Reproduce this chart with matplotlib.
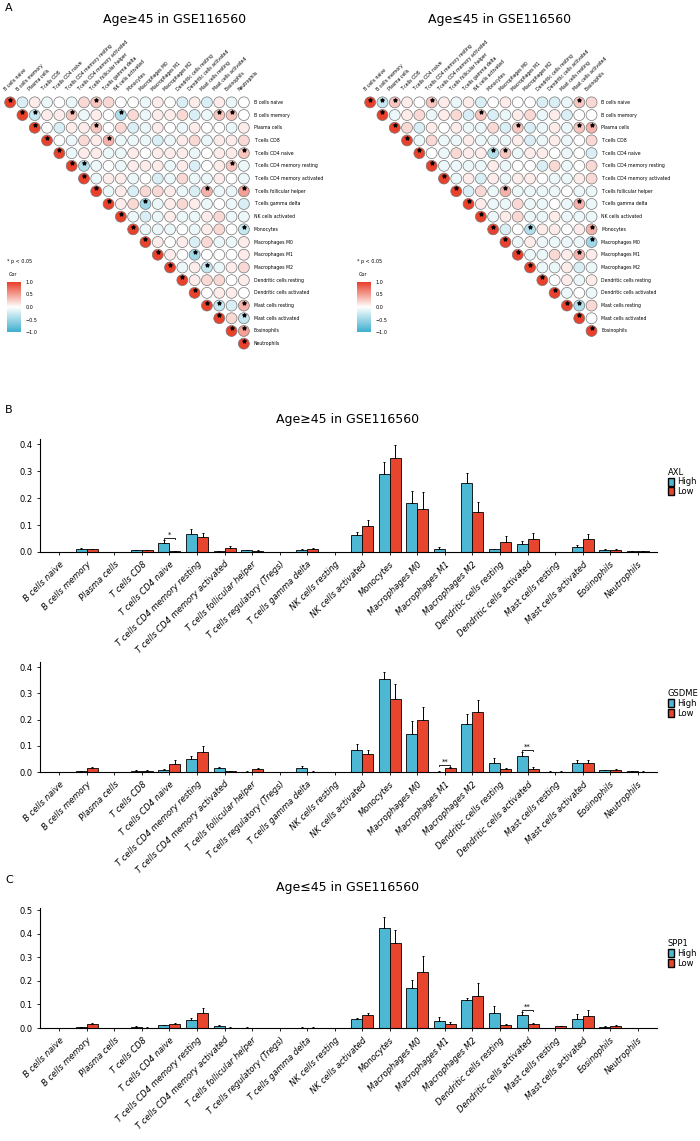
import matplotlib
matplotlib.use("Agg")
import matplotlib.pyplot as plt
import numpy as np
from matplotlib.colors import LinearSegmentedColormap
from matplotlib.patches import Patch

cells = ["B cells naive","B cells memory","Plasma cells","T cells CD8","T cells CD4 naive",
         "T cells CD4 memory resting","T cells CD4 memory activated","T cells follicular helper",
         "T cells regulatory (Tregs)","T cells gamma delta","NK cells resting","NK cells activated",
         "Monocytes","Macrophages M0","Macrophages M1","Macrophages M2","Dendritic cells resting",
         "Dendritic cells activated","Mast cells resting","Mast cells activated","Eosinophils","Neutrophils"]
heat_left_labels = [c for c in cells if c not in ("T cells regulatory (Tregs)","NK cells resting")]
heat_right_labels = heat_left_labels[:-1]

# upper-triangle correlations (tenths), rows excluding diagonal
left_rows = [
 [-2,1,-1,0,-1,2,3,2,0,0,-1,1,0,-2,1,-2,1,-1,0],
 [-3,1,1,3,-1,1,0,-4,2,-1,1,1,2,-2,-1,3,3,0],
 [0,-2,1,1,3,0,2,-2,-1,1,0,-1,1,0,0,-1,1],
 [0,-1,2,1,4,-1,-1,-1,-2,-1,1,2,-1,1,1,2],
 [-1,1,1,-1,-1,1,0,1,1,1,-1,0,1,1,3],
 [-4,-1,0,-1,1,1,1,-1,1,-2,0,1,3,-1],
 [-1,1,1,-1,0,-2,-1,2,-1,-1,1,0,-1],
 [-1,1,-2,2,2,1,-1,-2,4,-1,-1,5],
 [1,2,-5,-1,1,2,1,-1,0,-1,-2],
 [-1,-2,-1,1,-1,-1,1,2,-1,-1],
 [-1,-1,-1,0,-1,1,2,0,-3],
 [1,0,1,-2,2,-1,-1,1],
 [1,0,-5,0,0,0,1],
 [-1,1,-3,-1,1,2],
 [1,2,2,0,1],
 [0,1,1,0],
 [-3,-2,4],
 [2,-3],
 [5],
]
right_rows = [
 [-3,3,1,0,3,1,-1,1,-2,0,1,0,0,-2,-2,-1,3,2],
 [-1,1,2,-1,1,2,-2,3,-2,-1,1,2,-1,1,-2,0,0],
 [2,-2,1,0,1,-1,-1,2,-2,3,-2,-1,1,-1,3,4],
 [-1,2,-1,-1,1,-1,-1,-1,1,-2,-1,1,-1,0,2],
 [0,-1,2,1,1,-4,3,-1,1,1,0,-1,0,-2],
 [-1,-1,-1,-1,1,-1,0,0,-2,2,-1,0,2],
 [-1,1,-2,1,-1,1,1,0,-1,-1,1,2],
 [-2,2,-1,4,-1,-1,-1,-1,0,-1,-1],
 [1,-1,-1,2,-1,-1,0,-1,4,-1],
 [-1,1,2,-1,-1,1,-1,-1,-1],
 [-2,0,-4,1,1,0,1,4],
 [-1,1,-1,-1,-1,-1,-5],
 [-1,-1,2,1,4,1],
 [-1,-1,1,-2,-1],
 [0,1,-1,1],
 [-1,0,-1],
 [-4,2],
 [0],
]

axl_high = [0,.010,0,.006,.033,.068,.003,.006,0,.008,0,.063,.290,.183,.013,.255,.010,.028,0,.020,.009,.002]
axl_low  = [0,.010,0,.006,.003,.057,.015,.005,0,.010,0,.098,.350,.160,0,.147,.037,.050,0,.050,.009,.002]
axl_high_err = [0,.004,0,.003,.012,.018,.002,.003,0,.004,0,.013,.045,.042,.006,.040,.003,.012,0,.006,.003,.001]
axl_low_err  = [0,.003,0,.003,.002,.014,.006,.003,0,.004,0,.020,.047,.062,0,.037,.023,.020,0,.016,.002,.001]
gs_high = [0,.003,0,.005,.007,.050,.015,.001,0,.015,0,.085,.355,.145,.001,.183,.033,.060,.001,.033,.007,.003]
gs_low  = [0,.015,0,.005,.032,.075,.002,.010,0,.001,0,.070,.278,.200,.015,.228,.010,.013,.001,.033,.008,.001]
gs_high_err = [0,.002,0,.003,.003,.012,.005,.001,0,.007,0,.022,.028,.050,.001,.038,.020,.015,.001,.011,.002,.002]
gs_low_err  = [0,.006,0,.003,.013,.023,.001,.004,0,.001,0,.013,.058,.050,.004,.048,.004,.008,.001,.013,.003,.001]
sp_high = [0,.004,.001,.006,.012,.036,.009,.002,0,.002,0,.040,.425,.170,.030,.120,.062,.055,.001,.038,.005,0]
sp_low  = [0,.015,.001,.002,.018,.065,.002,.001,0,.002,0,.057,.362,.238,.015,.135,.012,.017,.007,.050,.010,0]
sp_high_err = [0,.001,0,.002,.002,.005,.003,.001,0,.001,0,.004,.048,.035,.018,.006,.030,.012,0,.020,.002,0]
sp_low_err  = [0,.008,0,.001,.004,.020,.001,.001,0,.001,0,.008,.055,.070,.010,.055,.004,.004,.003,.027,.004,0]

W, H = 700, 1141
fig = plt.figure(figsize=(W/100, H/100), dpi=100)
plt.rcParams['font.family'] = ['DejaVu Sans']

def px_axes(l, t, w, h):
    return fig.add_axes([l/W, 1-(t+h)/H, w/W, h/H])

cmap = LinearSegmentedColormap.from_list("c", ["#3FB0CE", "#FFFFFF", "#E8412C"])

def corr_panel(l, t, labels, rows, title, tx, cbx):
    n = len(labels)
    cw, ch = 12.3, 12.7
    ax = px_axes(l, t, cw*n, ch*n)
    ax.set_xlim(-0.5, n-0.5); ax.set_ylim(n-0.5, -0.5); ax.axis('off')
    xs, ys, vs, sx, sy = [], [], [], [], []
    for i in range(n):
        xs.append(i); ys.append(i); vs.append(1.0); sx.append(i); sy.append(i)
        if i < len(rows):
            for k, v in enumerate(rows[i]):
                j = i+1+k
                xs.append(j); ys.append(i); vs.append(v/10)
                if abs(v) >= 3:
                    sx.append(j); sy.append(i)
    ax.scatter(xs, ys, c=vs, cmap=cmap, vmin=-1, vmax=1, s=62, edgecolors='#777777', linewidths=0.5, clip_on=False)
    ax.scatter(sx, np.array(sy)-0.22, marker='*', c='black', s=6, clip_on=False)
    for i, lab in enumerate(labels):
        ax.text(n-0.5+0.3, i, lab, fontsize=3.3, va='center', ha='left', clip_on=False)
        ax.text(i-0.3, -0.8, lab, fontsize=3.3, rotation=45, ha='left', va='bottom', rotation_mode='anchor', clip_on=False)
    fig.text(tx/W, 1-20/H, title, fontsize=9, ha='center', va='center')
    cax = px_axes(cbx, 282, 14, 50)
    grad = np.linspace(1, -1, 100).reshape(-1, 1)
    cax.imshow(grad, cmap=cmap, vmin=-1, vmax=1, aspect='auto', extent=[0, 1, -1, 1])
    cax.set_xticks([]); cax.yaxis.tick_right()
    cax.set_yticks([1, 0.5, 0, -0.5, -1]); cax.set_yticklabels(["1.0", "0.5", "0.0", "\u22120.5", "\u22121.0"])
    cax.tick_params(labelsize=3.5, length=0, pad=3)
    for s in cax.spines.values(): s.set_visible(False)
    fig.text((cbx)/W, 1-262/H, "* p < 0.05", fontsize=3.5, va='center')
    fig.text((cbx+2)/W, 1-274/H, "Cor", fontsize=3.5, va='center')

corr_panel(4, 96, heat_left_labels, left_rows, "Age\u226545 in GSE116560", 175, 7)
corr_panel(364, 96, heat_right_labels, right_rows, "Age\u226445 in GSE116560", 500, 357)
fig.text(5/W, 1-8/H, "A", fontsize=8, va='center')

def bar_panel(t, h, high, low, he, le, ymax, yticks, gene, sig, show_labels):
    ax = px_axes(40, t, 617, h)
    x = np.arange(len(cells)); bw = 0.4
    ax.bar(x-bw/2, high, bw, yerr=[np.zeros(len(he)), he], color="#4DB8D4", edgecolor='black', linewidth=0.6,
           error_kw=dict(lw=0.7, capsize=1, capthick=0.7))
    ax.bar(x+bw/2, low, bw, yerr=[np.zeros(len(le)), le], color="#E8452F", edgecolor='black', linewidth=0.6,
           error_kw=dict(lw=0.7, capsize=1, capthick=0.7))
    ax.set_xlim(-0.7, len(cells)-0.3); ax.set_ylim(0, ymax)
    ax.set_yticks(yticks); ax.set_yticklabels([f"{v:.1f}" for v in yticks])
    ax.set_xticks(x)
    ax.set_xticklabels(cells, rotation=45, ha='right', rotation_mode='anchor', fontsize=6, style='italic')
    ax.tick_params(labelsize=6, length=2, width=0.6)
    for s in ['top', 'right']: ax.spines[s].set_visible(False)
    for s in ['left', 'bottom']: ax.spines[s].set_linewidth(0.8)
    for idx, lab in sig:
        top = max(high[idx]+he[idx], low[idx]+le[idx]) + ymax*0.02
        ax.plot([idx-bw/2, idx-bw/2, idx+bw/2, idx+bw/2], [top-ymax*0.01, top, top, top-ymax*0.01], color='black', lw=0.6)
        ax.text(idx, top, lab, ha='center', va='bottom', fontsize=5)
    leg = ax.legend(handles=[Patch(facecolor="#4DB8D4", edgecolor='black', label='High'),
                             Patch(facecolor="#E8452F", edgecolor='black', label='Low')],
                    title=gene, loc='center left', bbox_to_anchor=(1.005, 0.62), frameon=False,
                    fontsize=6, title_fontsize=6, handlelength=0.8, handleheight=1.1, handletextpad=0.4,
                    labelspacing=0.1, alignment='left')
    return ax

bar_panel(439, 113, axl_high, axl_low, axl_high_err, axl_low_err, 0.42, [0, .1, .2, .3, .4], "AXL", [(4, "*")], True)
bar_panel(662, 110, gs_high, gs_low, gs_high_err, gs_low_err, 0.42, [0, .1, .2, .3, .4], "GSDME", [(14, "**"), (17, "**")], True)
bar_panel(908, 120, sp_high, sp_low, sp_high_err, sp_low_err, 0.51, [0, .1, .2, .3, .4, .5], "SPP1", [(17, "**")], True)

fig.text(348/W, 1-420/H, "Age\u226545 in GSE116560", fontsize=9, ha='center', va='center')
fig.text(348/W, 1-888/H, "Age\u226445 in GSE116560", fontsize=9, ha='center', va='center')
fig.text(5/W, 1-410/H, "B", fontsize=8, va='center')
fig.text(5/W, 1-880/H, "C", fontsize=8, va='center')

fig.savefig("out.png", dpi=100)
